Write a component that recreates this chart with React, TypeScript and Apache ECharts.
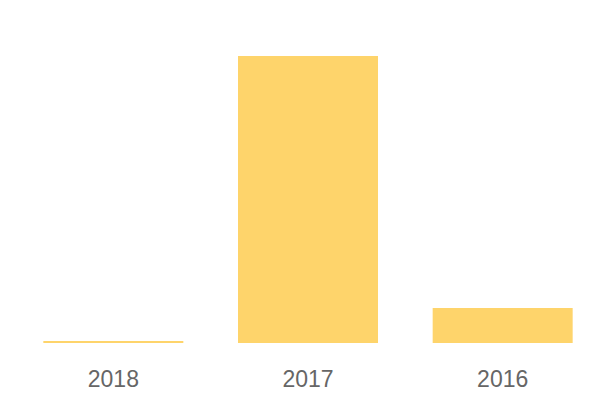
import React, { useEffect, useRef } from "react";
import * as echarts from "echarts";

const categories = ["2018", "2017", "2016"];
const values = [0.6, 82, 10];

export default function App() {
  const ref = useRef<HTMLDivElement>(null);
  useEffect(() => {
    if (!ref.current) return;
    const chart = echarts.init(ref.current, undefined, { renderer: "svg" });
    chart.setOption({
      animation: false,
      grid: { left: 16, right: 0, top: 56, bottom: 57 },
      xAxis: {
        type: "category",
        data: categories,
        axisLine: { show: false },
        axisTick: { show: false },
        axisLabel: {
          color: "#666666",
          fontSize: 23,
          fontFamily: "Liberation Sans, Arial, sans-serif",
          margin: 24,
        },
      },
      yAxis: {
        type: "value",
        min: 0,
        max: 82,
        show: false,
        splitLine: { show: false },
      },
      series: [
        {
          type: "bar",
          data: values,
          barWidth: 140,
          itemStyle: { color: "#FED46B" },
        },
      ],
    });
    return () => chart.dispose();
  }, []);
  return (
    <div
      ref={ref}
      style={{ position: "absolute", left: 0, top: 0, width: 600, height: 400 }}
    />
  );
}
